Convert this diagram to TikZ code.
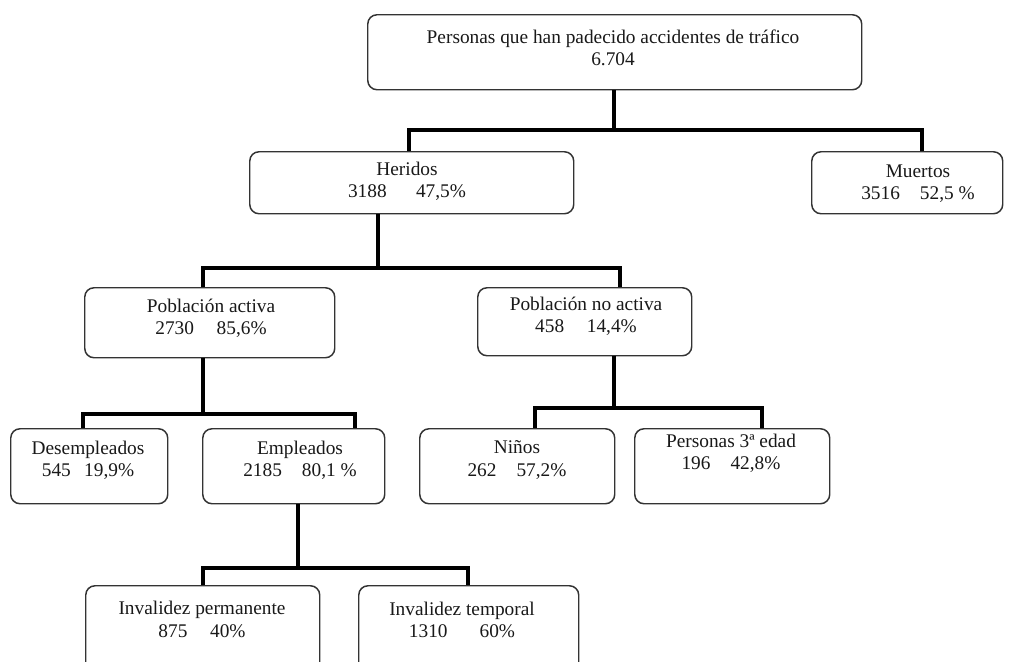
\documentclass[tikz,border=0pt]{standalone}
\usepackage{fontspec}
\setmainfont{Liberation Serif}
\begin{document}
\begin{tikzpicture}[x=0.75pt,y=-0.75pt,
  box/.style={draw=black!80,line width=1.1pt,rounded corners=7pt,inner sep=0pt,anchor=north west},
  txt/.style={font=\fontsize{14.5}{16.8}\selectfont,align=center,inner sep=0pt,text=black!90},
  link/.style={line width=3pt,black}]
\clip (0,0) rectangle (1016,661);
\fill[white] (0,0) rectangle (1016,661);
% boxes: corner at top-left, size in px
\newcommand\mybox[5]{\node[box,minimum width=#4*0.75pt,minimum height=#5*0.75pt] (#1) at (#2,#3) {};}
\mybox{top}{367}{14}{494}{75}
\mybox{her}{249}{151}{324}{62}
\mybox{mue}{811}{151}{191}{62}
\mybox{pa}{84}{287}{250}{70}
\mybox{pna}{477}{287}{214}{68}
\mybox{des}{10}{428}{157}{75}
\mybox{emp}{202}{428}{182}{75}
\mybox{nin}{419}{428}{195}{75}
\mybox{ter}{634}{428}{195}{75}
\mybox{ip}{85}{585}{234}{90}
\mybox{it}{358}{585}{220}{90}
% texts
\node[txt] (ttop) at (613,48) {Personas que han padecido accidentes de tráfico\\6.704};
\node[txt] (ther) at (407,181) {Heridos\\3188\hspace{22pt}47,5\%};
\node[txt] (tmue) at (918,183.5) {Muertos\\3516\hspace{15pt}52,5 \%};
\node[txt] (tpa) at (211,318.5) {Población activa\\2730\hspace{17pt}85,6\%};
\node[txt] (tpna) at (586,316.5) {Población no activa\\458\hspace{17pt}14,4\%};
\node[txt] (tdes) at (88,460.5) {Desempleados\\545\hspace{10pt}19,9\%};
\node[txt] (temp) at (300,460.5) {Empleados\\2185\hspace{15pt}80,1 \%};
\node[txt] (tnin) at (517,460) {Niños\\262\hspace{15pt}57,2\%};
\node[txt] (tter) at (731,453.5) {Personas 3ª edad\\196\hspace{15pt}42,8\%};
\node[txt] (tip) at (202,619.5) {Invalidez permanente\\875\hspace{17pt}40\%};
\node[txt] (tit) at (462,620) {Invalidez temporal\\1310\hspace{24pt}60\%};
% connectors
\coordinate (j1) at (614,130);
\draw[link] (top.south -| j1) -- (j1);
\draw[link] (her.north -| 409,0) |- (j1) -| (mue.north -| 922,0);
\coordinate (j2) at (378,268);
\draw[link] (her.south -| j2) -- (j2);
\draw[link] (pa.north -| 203,0) |- (j2) -| (pna.north -| 620,0);
\coordinate (j3) at (203,414);
\draw[link] (pa.south -| j3) -- (j3);
\draw[link] (des.north -| 83,0) |- (j3) -| (emp.north -| 355,0);
\coordinate (j4) at (614,408);
\draw[link] (pna.south -| j4) -- (j4);
\draw[link] (nin.north -| 535,0) |- (j4) -| (ter.north -| 762,0);
\coordinate (j5) at (298,568);
\draw[link] (emp.south -| j5) -- (j5);
\draw[link] (ip.north -| 203,0) |- (j5) -| (it.north -| 468,0);
\end{tikzpicture}
\end{document}
